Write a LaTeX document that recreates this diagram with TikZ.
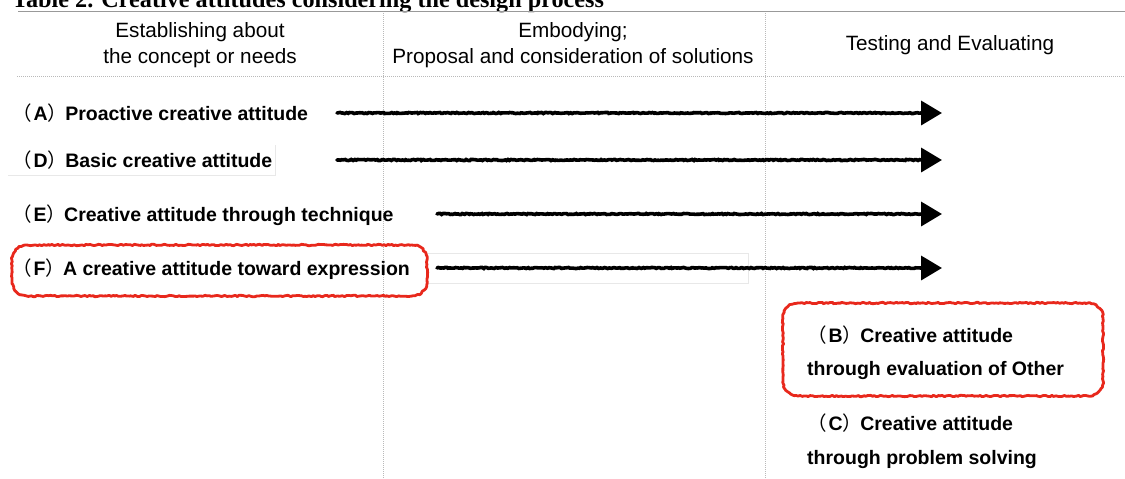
\documentclass[tikz,border=0pt]{standalone}
\usepackage{fontspec}
\setmainfont{Liberation Sans}
\newfontfamily\titlefont{Liberation Serif}
\newfontfamily\cjkfont{Noto Sans CJK JP}
\usetikzlibrary{decorations.pathmorphing,arrows.meta}
\newcommand{\lp}{{\cjkfont\mdseries （}\kern2pt}
\newcommand{\rp}{{\cjkfont\mdseries ）}\kern-2pt}
\definecolor{roughred}{HTML}{E8281C}
\tikzset{
  hdr/.style={font=\fontsize{20.7}{26}\selectfont, inner sep=0pt, anchor=base},
  lbl/.style={font=\bfseries\fontsize{19.5}{24}\selectfont, inner sep=0pt, anchor=base west},
  shaft/.style={decorate, decoration={random steps, segment length=1.6pt, amplitude=0.55pt}, line width=3.6pt, black, line cap=round},
  head/.style={line width=3.6pt, black, -{Triangle[length=21pt,width=24pt]}},
  redline/.style={draw=roughred, line width=2.8pt, line join=round},
  redrough/.style={decoration={random steps, segment length=2pt, amplitude=0.7pt}},
  grid/.style={gray!55, line width=0.8pt, dash pattern=on 1pt off 1pt},
  faint/.style={gray!18, line width=0.8pt}
}
\begin{document}
\begin{tikzpicture}[x=1pt,y=-1pt]
\useasboundingbox (0,0) rectangle (1125,479);
% title (partly cut off at the top)
\node[anchor=base west, inner sep=0pt, font=\titlefont\bfseries\fontsize{24.2}{24}\selectfont] (title) at (12,8) {Table 2. Creative attitudes considering the design process};
\draw[gray!80, line width=1.6pt] (18,11.5) -- (1125,11.5);
% grid
\draw[grid] (383,13) -- (383,479);
\draw[grid] (765,13) -- (765,479);
\draw[grid] (17,76) -- (1125,76);
% faint boxes
\draw[faint] (8,175) -- (275,175) -- (275,145);
\draw[faint] (427,253) -- (748,253) -- (748,283) -- (427,283);
% headers
\node[hdr] (h1a) at (200,37) {Establishing about};
\node[hdr] (h1b) at (200,63) {the concept or needs};
\node[hdr] (h2a) at (573,37) {Embodying;};
\node[hdr] (h2b) at (573,63) {Proposal and consideration of solutions};
\node[hdr] (h3) at (950,50) {Testing and Evaluating};
% labels
\node[lbl] (A) at (12,120) {\lp A\rp Proactive creative attitude};
\node[lbl] (D) at (12,167) {\lp D\rp Basic creative attitude};
\node[lbl] (E) at (12,221) {\lp E\rp Creative attitude through technique};
\node[lbl] (F) at (12,275) {\lp F\rp A creative attitude toward expression};
\node[lbl] (B1) at (807,342) {\lp B\rp Creative attitude};
\node[lbl] (B2) at (807,375) {through evaluation of Other};
\node[lbl] (C1) at (807,430) {\lp C\rp Creative attitude};
\node[lbl] (C2) at (807,464) {through problem solving};
% arrow points: start, head base, tip
\coordinate (As) at (337,113); \coordinate (Ab) at (921,113); \coordinate (Ae) at (942,113);
\coordinate (Ds) at (337,160); \coordinate (Db) at (921,160); \coordinate (De) at (942,160);
\coordinate (Es) at (437,214); \coordinate (Eb) at (921,214); \coordinate (Ee) at (942,214);
\coordinate (Fs) at (437,268); \coordinate (Fb) at (921,268); \coordinate (Fe) at (942,268);
\foreach \r in {A,D,E,F}{
  \draw[shaft] (\r s) -- (\r b);
  \draw[head] (\r b) -- (\r e);
}
% red highlight boxes
\draw[redline, redrough] decorate {[rounded corners=15pt] (12,245) rectangle (427,296)};
\draw[redline, redrough] decorate {[rounded corners=15pt] (783,303) rectangle (1103,396)};
\end{tikzpicture}
\end{document}
